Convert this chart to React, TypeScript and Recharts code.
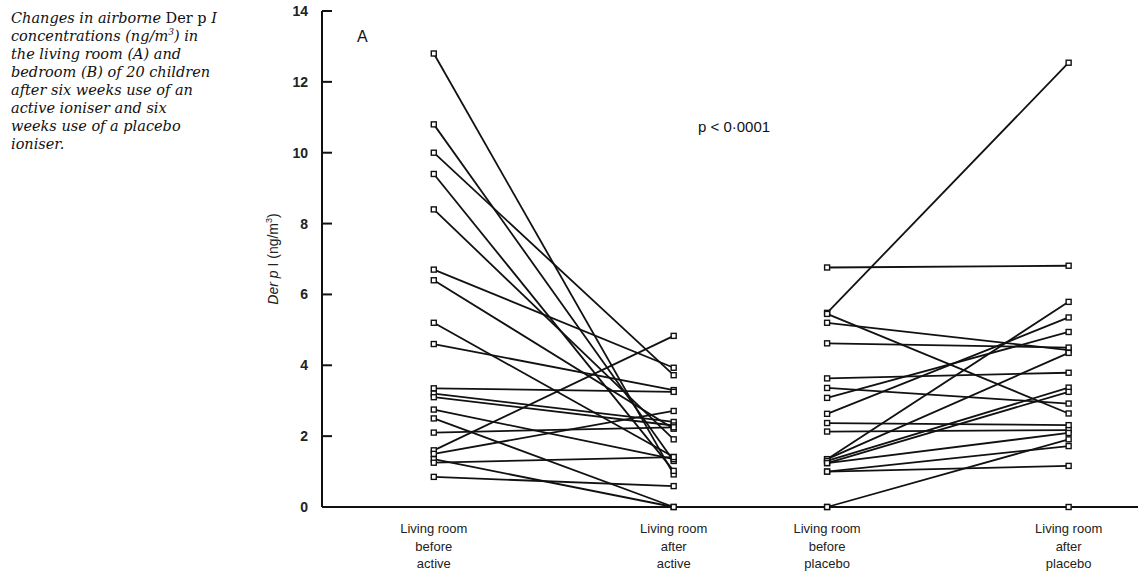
import { LineChart, Line, XAxis, YAxis } from "recharts";

// values (ng/m3), one entry per child
const activeBefore = [12.8, 10.8, 10.0, 9.4, 8.4, 6.7, 6.4, 5.2, 4.6, 3.35, 3.2, 3.1, 2.75, 2.5, 2.1, 1.6, 1.5, 1.35, 1.25, 0.85];
const activeAfter = [0.92, 1.3, 3.72, 1.02, 1.91, 3.93, 2.21, 1.41, 3.3, 3.25, 2.4, 2.3, 1.35, 0, 2.25, 4.83, 2.71, 0, 1.41, 0.59];
const placeboBefore = [6.76, 5.48, 5.45, 5.2, 4.62, 3.63, 3.36, 3.08, 2.63, 2.37, 2.13, 1.35, 1.35, 1.3, 1.24, 1.24, 1.0, 1.0, 0, 0];
const placeboAfter = [6.81, 12.54, 2.64, 4.43, 4.5, 3.79, 2.92, 4.94, 5.35, 2.31, 2.17, 5.79, 4.35, 3.37, 3.25, 2.09, 1.16, 1.72, 1.91, 0];

const categories = [
  ["Living room", "before", "active"],
  ["Living room", "after", "active"],
  ["Living room", "before", "placebo"],
  ["Living room", "after", "placebo"],
];
const yTicks = [0, 2, 4, 6, 8, 10, 12, 14];

// where each column sits on the 0-100 x scale
const catPos = [13.7, 43.1, 61.9, 91.5];

const pairs = [
  ...activeBefore.map((b, i) => [
    { x: catPos[0], y: b },
    { x: catPos[1], y: activeAfter[i] },
  ]),
  ...placeboBefore.map((b, i) => [
    { x: catPos[2], y: b },
    { x: catPos[3], y: placeboAfter[i] },
  ]),
];

const sans = '"Liberation Sans", Arial, sans-serif';

function SquareDot(props: any) {
  const { cx, cy } = props;
  if (cx == null || cy == null) return null;
  return <rect x={cx - 2.5} y={cy - 2.5} width={5} height={5} fill="#fff" stroke="#111" strokeWidth={1.4} />;
}

function YTick(props: any) {
  const { x, y, payload } = props;
  return (
    <g>
      <line x1={x} x2={x + 10} y1={y} y2={y} stroke="#111" strokeWidth={2} />
      <text x={x - 14} y={y + 5} textAnchor="end" fontFamily={sans} fontWeight="bold" fontSize={14} fill="#222">
        {payload.value}
      </text>
    </g>
  );
}

function XTick(props: any) {
  const { x, y, index } = props;
  const lines = categories[index] || [];
  return (
    <text x={x} y={y} textAnchor="middle" fontFamily={sans} fontSize={13} fill="#222">
      {lines.map((l, i) => (
        <tspan key={i} x={x} dy={i === 0 ? 26 : 17.5}>
          {l}
        </tspan>
      ))}
    </text>
  );
}

export default function App() {
  return (
    <div style={{ position: "absolute", left: 0, top: 0, width: 1138, height: 574, background: "#fff" }}>
      <div
        style={{
          position: "absolute",
          left: 11,
          top: 9,
          fontFamily: '"DejaVu Serif", "Liberation Serif", serif',
          fontStyle: "italic",
          fontSize: 14.5,
          lineHeight: "18px",
          color: "#111",
        }}
      >
        Changes in airborne <span style={{ fontStyle: "normal" }}>Der p</span> I<br />
        concentrations (ng/m<sup style={{ fontSize: 9, lineHeight: 0 }}>3</sup>) in<br />
        the living room (A) and<br />
        bedroom (B) of 20 children<br />
        after six weeks use of an<br />
        active ioniser and six<br />
        weeks use of a placebo<br />
        ioniser.
      </div>
      <LineChart width={1138} height={574} margin={{ top: 11, right: 0, bottom: 7, left: 0 }}>
        <XAxis
          dataKey="x"
          type="number"
          domain={[0, 100]}
          ticks={catPos}
          tick={<XTick />}
          tickLine={false}
          tickSize={0}
          tickMargin={0}
          height={60}
          axisLine={{ stroke: "#111", strokeWidth: 2 }}
          interval={0}
          allowDataOverflow
        />
        <YAxis
          type="number"
          domain={[0, 14]}
          ticks={yTicks}
          width={322}
          tick={<YTick />}
          tickLine={false}
          tickSize={0}
          tickMargin={0}
          axisLine={{ stroke: "#111", strokeWidth: 2 }}
          interval={0}
        />
        {pairs.map((d, i) => (
          <Line
            key={i}
            data={d}
            dataKey="y"
            stroke="#111"
            strokeWidth={1.8}
            dot={<SquareDot />}
            activeDot={false}
            isAnimationActive={false}
            legendType="none"
          />
        ))}
      </LineChart>
      <svg width={1138} height={574} style={{ position: "absolute", left: 0, top: 0, pointerEvents: "none" }}>
        <text x={357} y={42} fontFamily={sans} fontSize={16} fill="#111">
          A
        </text>
        <text x={698} y={132} fontFamily={sans} fontSize={15} fill="#111">
          p &lt; 0·0001
        </text>
        <text
          x={0}
          y={0}
          transform="translate(278 259) rotate(-90)"
          textAnchor="middle"
          fontFamily={sans}
          fontSize={14}
          fill="#222"
        >
          <tspan fontStyle="italic">Der p</tspan> I (ng/m
          <tspan fontSize={9} dy={-6}>3</tspan>
          <tspan dy={6}>)</tspan>
        </text>
      </svg>
    </div>
  );
}
